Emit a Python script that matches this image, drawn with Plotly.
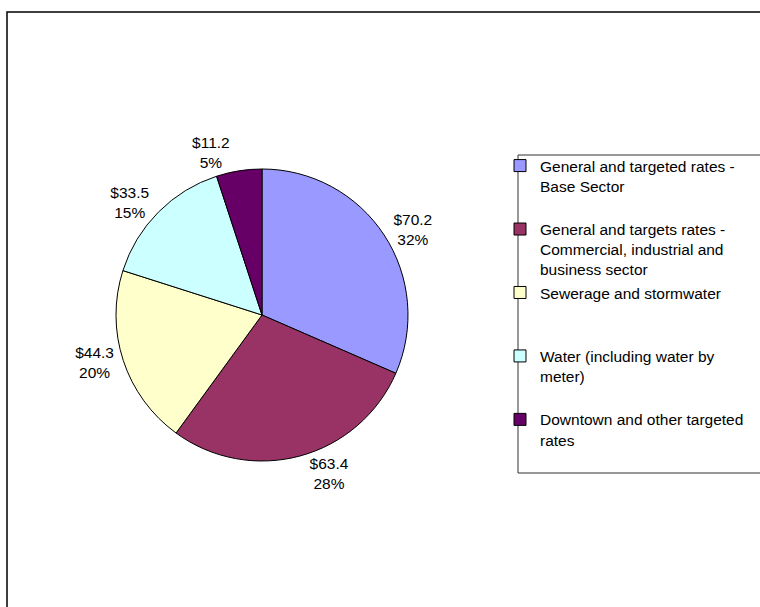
import plotly.graph_objects as go

# Rates revenue by source ($ million)
categories = [
    "General and targeted rates -<br>Base Sector",
    "General and targets rates -<br>Commercial, industrial and<br>business sector",
    "Sewerage and stormwater",
    "Water (including water by<br>meter)",
    "Downtown and other targeted<br>rates",
]
amounts = [70.2, 63.4, 44.3, 33.5, 11.2]
slice_colors = ["#9999FF", "#993366", "#FFFFCC", "#CCFFFF", "#660066"]

W, H = 760, 607
FONT = "Liberation Sans, Arial, sans-serif"
FS = 15.5

# give every legend entry the same three-line slot so entries are evenly spaced
SLOT_LINES = 3
legend_labels = [
    c + "<br>\u00a0" * (SLOT_LINES - 1 - c.count("<br>")) for c in categories
]

CX, CY, R = 262, 315, 146

fig = go.Figure(
    go.Pie(
        labels=legend_labels,
        values=amounts,
        sort=False,
        direction="clockwise",
        rotation=0,
        marker=dict(colors=slice_colors, line=dict(color="black", width=1)),
        texttemplate="$%{value:.1f}<br>%{percent:.0%}",
        textposition="outside",
        textfont=dict(family=FONT, size=FS, color="black"),
        hoverinfo="skip",
        domain=dict(x=[(CX - R) / W, (CX + R) / W],
                    y=[(H - CY - R) / H, (H - CY + R) / H]),
    )
)

fig.update_layout(
    width=W,
    height=H,
    margin=dict(l=0, r=0, t=0, b=0),
    paper_bgcolor="white",
    plot_bgcolor="white",
    font=dict(family=FONT, size=FS, color="black"),
    showlegend=True,
    legend=dict(
        x=500 / W, y=1 - 149 / H, xanchor="left", yanchor="top",
        valign="top", borderwidth=0, bgcolor="rgba(0,0,0,0)",
        font=dict(family=FONT, size=FS, color="black"),
        tracegroupgap=0,
    ),
    shapes=[
        # chart frame
        dict(type="rect", xref="paper", yref="paper",
             x0=7 / W, x1=1.02, y0=-0.02, y1=1 - 12 / H,
             line=dict(color="black", width=1.5)),
        # legend frame
        dict(type="rect", xref="paper", yref="paper",
             x0=518 / W, x1=1.01, y0=1 - 473 / H, y1=1 - 155 / H,
             line=dict(color="#333333", width=1)),
    ],
)

fig.write_html("out.html")
